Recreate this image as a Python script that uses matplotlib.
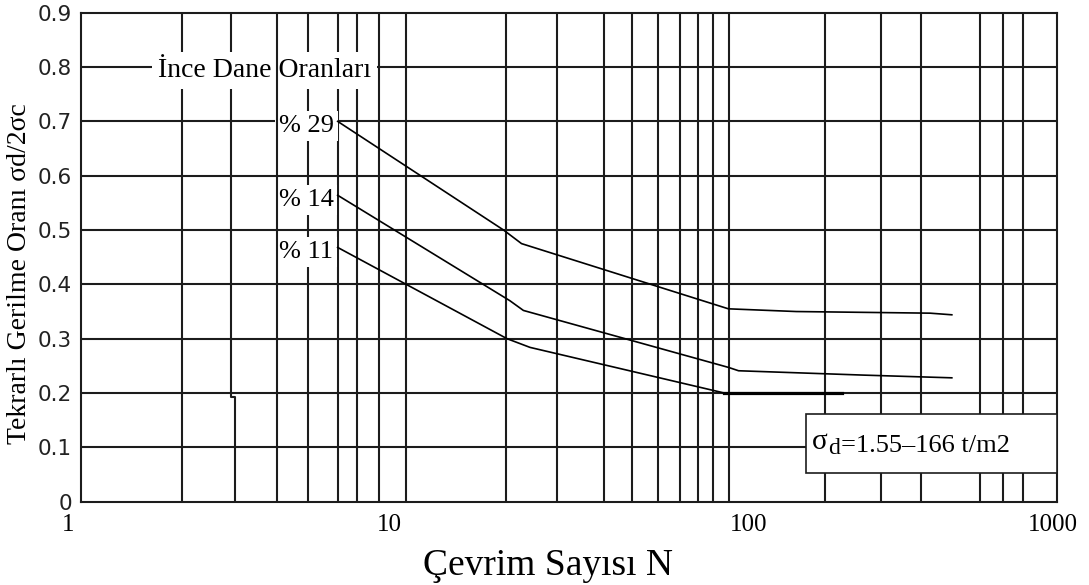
import matplotlib
matplotlib.use("Agg")
import matplotlib.pyplot as plt
from matplotlib.patches import Rectangle
from matplotlib.ticker import NullLocator

# Çevrim sayısı (N) ve gerilme oranı, ince dane oranına göre
n_29 = [6.15, 19.9, 22.6, 97.7, 158, 407, 475]
r_29 = [0.70, 0.50, 0.475, 0.355, 0.350, 0.347, 0.344]
n_14 = [6.15, 20.8, 22.9, 98, 105, 254, 475]
r_14 = [0.564, 0.37, 0.352, 0.247, 0.241, 0.233, 0.228]
n_11 = [6.15, 20.4, 24, 95, 218]
r_11 = [0.468, 0.30, 0.284, 0.20, 0.20]
curve_labels = ["% 29", "% 14", "% 11"]

# elle çizilmiş log ızgara çizgileri
grid_n = [2.05, 4.0, 5.0, 6.17, 7.05, 8.24, 10.0,
          20.3, 29.1, 40.5, 49.4, 59.4, 69.4, 78.8, 87.7, 98.2,
          194, 288, 382, 580, 683, 787]
grid_r = [0.1, 0.2, 0.3, 0.4, 0.5, 0.6, 0.7, 0.8]

x_ticks = [1, 10, 100, 1000]
x_ticklabels = ["1", "10", "100", "1000"]
y_ticks = [0, 0.1, 0.2, 0.3, 0.4, 0.5, 0.6, 0.7, 0.8, 0.9]
y_ticklabels = ["0", "0.1", "0.2", "0.3", "0.4", "0.5", "0.6", "0.7", "0.8", "0.9"]

# sigma_d kutusu (N ve oran cinsinden)
box_n = [169.4, 1000]
box_r = [0.0534, 0.161]

SERIF = "Liberation Serif"
GRID_C = "#1c1c1c"
GRID_LW = 1.5

fig = plt.figure(figsize=(10.89, 5.85), dpi=100)
ax = fig.add_axes([0.07438, 0.14239, 0.89624, 0.83590])
ax.set_xscale("log")
ax.set_xlim(1, 1000)
ax.set_ylim(0, 0.9)

# ızgara
for n in grid_n:
    z = 3 if n == 4.0 else 1
    ax.axvline(n, color=GRID_C, lw=GRID_LW, zorder=z)
# 3 çizgisi iki parça halinde (hafif kaymalı)
ax.plot([2.9, 2.9, 2.97, 2.97], [0.9, 0.193, 0.193, 0], color=GRID_C, lw=GRID_LW, zorder=1)
for r in grid_r:
    ax.axhline(r, color=GRID_C, lw=GRID_LW, zorder=1)

for sp in ax.spines.values():
    sp.set_color(GRID_C)
    sp.set_linewidth(GRID_LW)

# eğriler
for n, r in [(n_29, r_29), (n_14, r_14), (n_11, r_11)]:
    ax.plot(n, r, color="black", lw=1.2, zorder=4)
ax.plot(n_11[-2:], r_11[-2:], color="black", lw=2.3, zorder=4)

# eğri etiketleri
for lab, r in zip(curve_labels, [r_29[0], r_14[0], r_11[0]]):
    ax.text(4.05, r - 0.02, lab, ha="left", va="baseline", fontsize=19, family=SERIF,
            bbox=dict(boxstyle="square,pad=0.15", fc="white", ec="none"), zorder=2)

ax.text(3.67, 0.782, "İnce Dane Oranları", ha="center", va="baseline", fontsize=20,
        family=SERIF, bbox=dict(boxstyle="square,pad=0.22", fc="white", ec="none"), zorder=2)

# sigma_d kutusu
ax.add_patch(Rectangle((box_n[0], box_r[0]), box_n[1] - box_n[0], box_r[1] - box_r[0],
                       fc="white", ec=GRID_C, lw=1.2, zorder=3))
anchor = (176.3, 0.0915)
ax.annotate("σ", xy=anchor, xytext=(0, 2.2), textcoords="offset points",
            fontsize=21, family=SERIF, va="baseline", zorder=5)
ax.annotate("d", xy=anchor, xytext=(12.0, -1.6), textcoords="offset points",
            fontsize=17, family=SERIF, va="baseline", zorder=5)
ax.annotate("=1.55–166 t/m2", xy=anchor, xytext=(21.3, 0), textcoords="offset points",
            fontsize=19, family=SERIF, va="baseline", zorder=5)

# eksenler
ax.xaxis.set_minor_locator(NullLocator())
ax.set_xticks(x_ticks)
ax.set_xticklabels([])
x_label_shift = [-9, -12, 12, -3]
for n, lab, dx in zip(x_ticks, x_ticklabels, x_label_shift):
    ax.annotate(lab, xy=(n, 0), xytext=(dx, -9), textcoords="offset points",
                ha="center", va="top", fontsize=18, family=SERIF, annotation_clip=False)

ax.set_yticks(y_ticks)
ax.set_yticklabels(y_ticklabels, fontsize=15.5, family="DejaVu Sans", color="#222222")
ax.tick_params(axis="both", length=0)
ax.tick_params(axis="y", pad=6.5)

ax.text(-0.0635, 0.4667, "Tekrarlı Gerilme Oranı σd/2σc", rotation=90, transform=ax.transAxes,
        ha="center", va="center", fontsize=20, family=SERIF)
ax.text(0.478, -0.15, "Çevrim Sayısı N", transform=ax.transAxes,
        ha="center", va="baseline", fontsize=27, family=SERIF)

fig.savefig("out.png", dpi=100)
